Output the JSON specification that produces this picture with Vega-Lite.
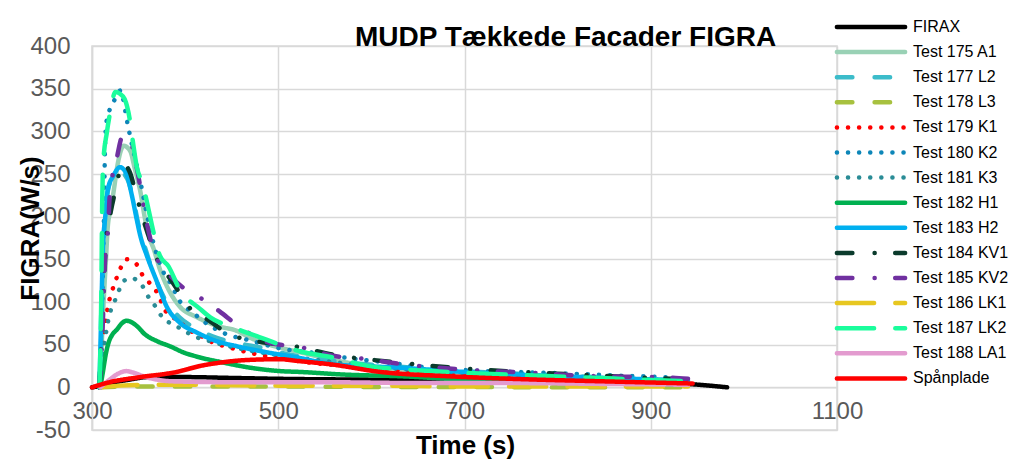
{
"$schema": "https://vega.github.io/schema/vega-lite/v6.json",
"width": 745, "height": 384,
"autosize": {"type": "none"},
"padding": {"left": 92, "top": 46, "right": 181, "bottom": 30},
"background": "#ffffff",
"config": {"view": {"stroke": "#d9d9d9", "strokeWidth": 1.5}},
"title": {"text": "MUDP Tækkede Facader FIGRA", "font": "Liberation Sans", "fontSize": 28, "fontWeight": "bold", "color": "#000000", "anchor": "start", "frame": "group", "dx": 263, "offset": -33},
"datasets": {"d": [
{"s":"FIRAX","t":300,"v":0},{"s":"FIRAX","t":310,"v":2},{"s":"FIRAX","t":320,"v":5},{"s":"FIRAX","t":340,"v":9},{"s":"FIRAX","t":360,"v":12},{"s":"FIRAX","t":400,"v":12},{"s":"FIRAX","t":450,"v":11},{"s":"FIRAX","t":500,"v":10},{"s":"FIRAX","t":600,"v":9},{"s":"FIRAX","t":700,"v":8},{"s":"FIRAX","t":800,"v":7},{"s":"FIRAX","t":900,"v":5},{"s":"FIRAX","t":945,"v":3.5},{"s":"FIRAX","t":982,"v":0},
{"s":"Test 175 A1","t":308,"v":0},{"s":"Test 175 A1","t":310,"v":40},{"s":"Test 175 A1","t":312,"v":90},{"s":"Test 175 A1","t":315,"v":150},{"s":"Test 175 A1","t":317,"v":189},{"s":"Test 175 A1","t":320,"v":208},{"s":"Test 175 A1","t":323,"v":228},{"s":"Test 175 A1","t":328,"v":264},{"s":"Test 175 A1","t":334,"v":283},{"s":"Test 175 A1","t":341,"v":277},{"s":"Test 175 A1","t":346,"v":256},{"s":"Test 175 A1","t":352,"v":229},{"s":"Test 175 A1","t":357,"v":197},{"s":"Test 175 A1","t":362,"v":174},{"s":"Test 175 A1","t":366,"v":163},{"s":"Test 175 A1","t":373,"v":138},{"s":"Test 175 A1","t":382,"v":115},{"s":"Test 175 A1","t":394,"v":95},{"s":"Test 175 A1","t":413,"v":82},{"s":"Test 175 A1","t":434,"v":72},{"s":"Test 175 A1","t":456,"v":66},{"s":"Test 175 A1","t":470,"v":58},{"s":"Test 175 A1","t":500,"v":47},{"s":"Test 175 A1","t":524,"v":41},{"s":"Test 175 A1","t":555,"v":33},{"s":"Test 175 A1","t":585,"v":27},{"s":"Test 175 A1","t":631,"v":21},{"s":"Test 175 A1","t":700,"v":16},{"s":"Test 175 A1","t":800,"v":12},{"s":"Test 175 A1","t":880,"v":9},{"s":"Test 175 A1","t":940,"v":7},
{"s":"Test 177 L2","t":308,"v":0},{"s":"Test 177 L2","t":310,"v":60},{"s":"Test 177 L2","t":312,"v":150},{"s":"Test 177 L2","t":314,"v":200},{"s":"Test 177 L2","t":318,"v":235},{"s":"Test 177 L2","t":324,"v":248},{"s":"Test 177 L2","t":331,"v":252},{"s":"Test 177 L2","t":338,"v":244},{"s":"Test 177 L2","t":344,"v":222},{"s":"Test 177 L2","t":350,"v":190},{"s":"Test 177 L2","t":358,"v":160},{"s":"Test 177 L2","t":368,"v":128},{"s":"Test 177 L2","t":380,"v":100},{"s":"Test 177 L2","t":394,"v":82},{"s":"Test 177 L2","t":413,"v":68},{"s":"Test 177 L2","t":434,"v":58},{"s":"Test 177 L2","t":456,"v":52},{"s":"Test 177 L2","t":488,"v":45},{"s":"Test 177 L2","t":505,"v":40},{"s":"Test 177 L2","t":559,"v":31},{"s":"Test 177 L2","t":631,"v":24},{"s":"Test 177 L2","t":700,"v":19},{"s":"Test 177 L2","t":800,"v":14},{"s":"Test 177 L2","t":880,"v":10},{"s":"Test 177 L2","t":940,"v":8},
{"s":"Test 178 L3","t":308,"v":0},{"s":"Test 178 L3","t":340,"v":1},{"s":"Test 178 L3","t":400,"v":1},{"s":"Test 178 L3","t":500,"v":1},{"s":"Test 178 L3","t":600,"v":0.5},{"s":"Test 178 L3","t":700,"v":0.5},{"s":"Test 178 L3","t":800,"v":0},{"s":"Test 178 L3","t":940,"v":0},
{"s":"Test 179 K1","t":308,"v":0},{"s":"Test 179 K1","t":312,"v":50},{"s":"Test 179 K1","t":315,"v":80},{"s":"Test 179 K1","t":317.5,"v":97},{"s":"Test 179 K1","t":321,"v":111},{"s":"Test 179 K1","t":325,"v":124},{"s":"Test 179 K1","t":330,"v":138},{"s":"Test 179 K1","t":337,"v":150},{"s":"Test 179 K1","t":343,"v":148},{"s":"Test 179 K1","t":348,"v":144},{"s":"Test 179 K1","t":354,"v":132},{"s":"Test 179 K1","t":362,"v":122},{"s":"Test 179 K1","t":371,"v":109},{"s":"Test 179 K1","t":378,"v":91},{"s":"Test 179 K1","t":394,"v":77},{"s":"Test 179 K1","t":403,"v":68},{"s":"Test 179 K1","t":414,"v":62},{"s":"Test 179 K1","t":427,"v":54},{"s":"Test 179 K1","t":450,"v":46},{"s":"Test 179 K1","t":480,"v":38},{"s":"Test 179 K1","t":520,"v":31},{"s":"Test 179 K1","t":580,"v":24},{"s":"Test 179 K1","t":650,"v":18},{"s":"Test 179 K1","t":750,"v":13},{"s":"Test 179 K1","t":850,"v":9},{"s":"Test 179 K1","t":940,"v":6},
{"s":"Test 180 K2","t":308,"v":0},{"s":"Test 180 K2","t":311,"v":100},{"s":"Test 180 K2","t":313,"v":212},{"s":"Test 180 K2","t":314,"v":283},{"s":"Test 180 K2","t":315.5,"v":311},{"s":"Test 180 K2","t":323,"v":334},{"s":"Test 180 K2","t":331,"v":348},{"s":"Test 180 K2","t":333,"v":340},{"s":"Test 180 K2","t":338,"v":310},{"s":"Test 180 K2","t":344,"v":279},{"s":"Test 180 K2","t":347,"v":265},{"s":"Test 180 K2","t":354,"v":230},{"s":"Test 180 K2","t":360,"v":197},{"s":"Test 180 K2","t":370,"v":154},{"s":"Test 180 K2","t":378,"v":132},{"s":"Test 180 K2","t":386,"v":119},{"s":"Test 180 K2","t":391,"v":107},{"s":"Test 180 K2","t":410,"v":86},{"s":"Test 180 K2","t":445,"v":62},{"s":"Test 180 K2","t":466,"v":56},{"s":"Test 180 K2","t":505,"v":45},{"s":"Test 180 K2","t":534,"v":41},{"s":"Test 180 K2","t":584,"v":33},{"s":"Test 180 K2","t":610,"v":30},{"s":"Test 180 K2","t":663,"v":23},{"s":"Test 180 K2","t":725,"v":19},{"s":"Test 180 K2","t":790,"v":17},{"s":"Test 180 K2","t":860,"v":14},{"s":"Test 180 K2","t":925,"v":11},{"s":"Test 180 K2","t":942,"v":8},
{"s":"Test 181 K3","t":308,"v":0},{"s":"Test 181 K3","t":312,"v":40},{"s":"Test 181 K3","t":316,"v":70},{"s":"Test 181 K3","t":319,"v":86},{"s":"Test 181 K3","t":324,"v":100},{"s":"Test 181 K3","t":328,"v":111},{"s":"Test 181 K3","t":333,"v":123},{"s":"Test 181 K3","t":338,"v":127},{"s":"Test 181 K3","t":344,"v":128},{"s":"Test 181 K3","t":349,"v":124},{"s":"Test 181 K3","t":354,"v":119},{"s":"Test 181 K3","t":360,"v":107},{"s":"Test 181 K3","t":368,"v":95},{"s":"Test 181 K3","t":375,"v":83},{"s":"Test 181 K3","t":386,"v":74},{"s":"Test 181 K3","t":397,"v":68},{"s":"Test 181 K3","t":409,"v":60},{"s":"Test 181 K3","t":421,"v":56},{"s":"Test 181 K3","t":440,"v":50},{"s":"Test 181 K3","t":470,"v":43},{"s":"Test 181 K3","t":520,"v":35},{"s":"Test 181 K3","t":580,"v":27},{"s":"Test 181 K3","t":650,"v":20},{"s":"Test 181 K3","t":750,"v":15},{"s":"Test 181 K3","t":850,"v":11},{"s":"Test 181 K3","t":940,"v":7},
{"s":"Test 182 H1","t":309,"v":0},{"s":"Test 182 H1","t":312,"v":20},{"s":"Test 182 H1","t":315,"v":40},{"s":"Test 182 H1","t":318,"v":53},{"s":"Test 182 H1","t":322,"v":62},{"s":"Test 182 H1","t":327,"v":68},{"s":"Test 182 H1","t":332,"v":75},{"s":"Test 182 H1","t":337,"v":78},{"s":"Test 182 H1","t":343,"v":76},{"s":"Test 182 H1","t":348,"v":72},{"s":"Test 182 H1","t":357,"v":62},{"s":"Test 182 H1","t":370,"v":54},{"s":"Test 182 H1","t":384,"v":48},{"s":"Test 182 H1","t":398,"v":41},{"s":"Test 182 H1","t":416,"v":35},{"s":"Test 182 H1","t":441,"v":29},{"s":"Test 182 H1","t":470,"v":23},{"s":"Test 182 H1","t":502,"v":19},{"s":"Test 182 H1","t":524,"v":18},{"s":"Test 182 H1","t":570,"v":15},{"s":"Test 182 H1","t":631,"v":13},{"s":"Test 182 H1","t":717,"v":8},{"s":"Test 182 H1","t":800,"v":6},{"s":"Test 182 H1","t":880,"v":4},{"s":"Test 182 H1","t":940,"v":3},
{"s":"Test 183 H2","t":308,"v":0},{"s":"Test 183 H2","t":310,"v":90},{"s":"Test 183 H2","t":312,"v":170},{"s":"Test 183 H2","t":314,"v":197},{"s":"Test 183 H2","t":317,"v":232},{"s":"Test 183 H2","t":323,"v":248},{"s":"Test 183 H2","t":330,"v":258},{"s":"Test 183 H2","t":337,"v":250},{"s":"Test 183 H2","t":343,"v":224},{"s":"Test 183 H2","t":348,"v":197},{"s":"Test 183 H2","t":352,"v":177},{"s":"Test 183 H2","t":359,"v":154},{"s":"Test 183 H2","t":370,"v":123},{"s":"Test 183 H2","t":380,"v":95},{"s":"Test 183 H2","t":394,"v":76},{"s":"Test 183 H2","t":413,"v":64},{"s":"Test 183 H2","t":434,"v":54},{"s":"Test 183 H2","t":456,"v":48},{"s":"Test 183 H2","t":488,"v":41},{"s":"Test 183 H2","t":520,"v":35},{"s":"Test 183 H2","t":559,"v":27},{"s":"Test 183 H2","t":631,"v":23},{"s":"Test 183 H2","t":700,"v":18},{"s":"Test 183 H2","t":800,"v":13},{"s":"Test 183 H2","t":880,"v":10},{"s":"Test 183 H2","t":940,"v":8},
{"s":"Test 184 KV1","t":308,"v":0},{"s":"Test 184 KV1","t":311,"v":80},{"s":"Test 184 KV1","t":315,"v":170},{"s":"Test 184 KV1","t":320,"v":205},{"s":"Test 184 KV1","t":325,"v":230},{"s":"Test 184 KV1","t":333,"v":262},{"s":"Test 184 KV1","t":341,"v":251},{"s":"Test 184 KV1","t":346,"v":232},{"s":"Test 184 KV1","t":352,"v":208},{"s":"Test 184 KV1","t":360,"v":180},{"s":"Test 184 KV1","t":370,"v":150},{"s":"Test 184 KV1","t":382,"v":130},{"s":"Test 184 KV1","t":394,"v":111},{"s":"Test 184 KV1","t":409,"v":88},{"s":"Test 184 KV1","t":420,"v":82},{"s":"Test 184 KV1","t":448,"v":62},{"s":"Test 184 KV1","t":477,"v":54},{"s":"Test 184 KV1","t":518,"v":48},{"s":"Test 184 KV1","t":560,"v":38},{"s":"Test 184 KV1","t":620,"v":30},{"s":"Test 184 KV1","t":700,"v":22},{"s":"Test 184 KV1","t":800,"v":16},{"s":"Test 184 KV1","t":880,"v":12},{"s":"Test 184 KV1","t":940,"v":9},
{"s":"Test 185 KV2","t":308,"v":0},{"s":"Test 185 KV2","t":311,"v":60},{"s":"Test 185 KV2","t":314,"v":150},{"s":"Test 185 KV2","t":317.5,"v":189},{"s":"Test 185 KV2","t":319,"v":224},{"s":"Test 185 KV2","t":326.5,"v":268},{"s":"Test 185 KV2","t":333.5,"v":296},{"s":"Test 185 KV2","t":338,"v":292},{"s":"Test 185 KV2","t":343,"v":283},{"s":"Test 185 KV2","t":348,"v":258},{"s":"Test 185 KV2","t":355,"v":215},{"s":"Test 185 KV2","t":362,"v":177},{"s":"Test 185 KV2","t":366,"v":160},{"s":"Test 185 KV2","t":375,"v":142},{"s":"Test 185 KV2","t":382,"v":133},{"s":"Test 185 KV2","t":400,"v":115},{"s":"Test 185 KV2","t":419,"v":103},{"s":"Test 185 KV2","t":437,"v":89},{"s":"Test 185 KV2","t":457,"v":72},{"s":"Test 185 KV2","t":488,"v":53},{"s":"Test 185 KV2","t":524,"v":47},{"s":"Test 185 KV2","t":559,"v":37},{"s":"Test 185 KV2","t":596,"v":33},{"s":"Test 185 KV2","t":620,"v":29},{"s":"Test 185 KV2","t":695,"v":21},{"s":"Test 185 KV2","t":771,"v":17},{"s":"Test 185 KV2","t":843,"v":13},{"s":"Test 185 KV2","t":911,"v":12},{"s":"Test 185 KV2","t":940,"v":10},
{"s":"Test 186 LK1","t":309,"v":0},{"s":"Test 186 LK1","t":330,"v":2},{"s":"Test 186 LK1","t":360,"v":3},{"s":"Test 186 LK1","t":400,"v":3},{"s":"Test 186 LK1","t":500,"v":2},{"s":"Test 186 LK1","t":600,"v":2},{"s":"Test 186 LK1","t":700,"v":1},{"s":"Test 186 LK1","t":800,"v":1},{"s":"Test 186 LK1","t":940,"v":1},
{"s":"Test 187 LK2","t":308,"v":0},{"s":"Test 187 LK2","t":310,"v":110},{"s":"Test 187 LK2","t":311,"v":220},{"s":"Test 187 LK2","t":312,"v":262},{"s":"Test 187 LK2","t":316,"v":299},{"s":"Test 187 LK2","t":320,"v":325},{"s":"Test 187 LK2","t":325,"v":346},{"s":"Test 187 LK2","t":330,"v":344},{"s":"Test 187 LK2","t":335,"v":338},{"s":"Test 187 LK2","t":341,"v":311},{"s":"Test 187 LK2","t":344,"v":287},{"s":"Test 187 LK2","t":348,"v":259},{"s":"Test 187 LK2","t":355,"v":236},{"s":"Test 187 LK2","t":360,"v":212},{"s":"Test 187 LK2","t":366,"v":182},{"s":"Test 187 LK2","t":373,"v":154},{"s":"Test 187 LK2","t":382,"v":142},{"s":"Test 187 LK2","t":394,"v":115},{"s":"Test 187 LK2","t":416,"v":92},{"s":"Test 187 LK2","t":427,"v":82},{"s":"Test 187 LK2","t":452,"v":70},{"s":"Test 187 LK2","t":477,"v":60},{"s":"Test 187 LK2","t":524,"v":42},{"s":"Test 187 LK2","t":559,"v":35},{"s":"Test 187 LK2","t":596,"v":25},{"s":"Test 187 LK2","t":663,"v":19},{"s":"Test 187 LK2","t":746,"v":15},{"s":"Test 187 LK2","t":817,"v":12},{"s":"Test 187 LK2","t":892,"v":9},{"s":"Test 187 LK2","t":940,"v":7},
{"s":"Test 188 LA1","t":309,"v":0},{"s":"Test 188 LA1","t":312,"v":3},{"s":"Test 188 LA1","t":319,"v":9},{"s":"Test 188 LA1","t":328,"v":16},{"s":"Test 188 LA1","t":337,"v":19},{"s":"Test 188 LA1","t":345,"v":17},{"s":"Test 188 LA1","t":355,"v":13},{"s":"Test 188 LA1","t":370,"v":9},{"s":"Test 188 LA1","t":387,"v":7},{"s":"Test 188 LA1","t":450,"v":6},{"s":"Test 188 LA1","t":550,"v":6},{"s":"Test 188 LA1","t":650,"v":5},{"s":"Test 188 LA1","t":750,"v":5},{"s":"Test 188 LA1","t":850,"v":4},{"s":"Test 188 LA1","t":940,"v":3},
{"s":"Spånplade","t":300,"v":0},{"s":"Spånplade","t":319,"v":6},{"s":"Spånplade","t":352,"v":12},{"s":"Spånplade","t":391,"v":18},{"s":"Spånplade","t":416,"v":25},{"s":"Spånplade","t":438,"v":29},{"s":"Spånplade","t":466,"v":32},{"s":"Spånplade","t":502,"v":33},{"s":"Spånplade","t":520,"v":31},{"s":"Spånplade","t":556,"v":27},{"s":"Spånplade","t":610,"v":18},{"s":"Spånplade","t":682,"v":13},{"s":"Spånplade","t":750,"v":10},{"s":"Spånplade","t":850,"v":7},{"s":"Spånplade","t":945,"v":4.5}
]},
"data": {"name": "d"},
"mark": {"type": "line", "strokeWidth": 4.5, "strokeCap": "round", "strokeJoin": "round", "interpolate": "monotone"},
"encoding": {
"x": {"field": "t", "type": "quantitative", "scale": {"domain": [300, 1100], "nice": false, "zero": false},
 "axis": {"orient": "bottom", "offset": -42.67, "values": [300, 500, 700, 900, 1100], "labelExpr": "'' + datum.value", "title": "Time (s)", "titleFont": "Liberation Sans", "titleFontSize": 26, "titleFontWeight": "bold", "titleColor": "#000000", "titleX": 373, "titleY": 58, "titleBaseline": "middle", "labelFont": "Liberation Sans", "labelFontSize": 24, "labelColor": "#595959", "labelPadding": 12, "labelFlush": false, "labelOverlap": false, "labelBound": false, "ticks": false, "domainColor": "#d9d9d9", "domainWidth": 1.5, "gridColor": "#d9d9d9", "gridWidth": 1.5}},
"y": {"field": "v", "type": "quantitative", "scale": {"domain": [-50, 400], "nice": false, "zero": false},
 "axis": {"values": [-50, 0, 50, 100, 150, 200, 250, 300, 350, 400], "labelExpr": "'' + datum.value", "title": "FIGRA(W/s)", "titleFont": "Liberation Sans", "titleFontSize": 26, "titleFontWeight": "bold", "titleColor": "#000000", "titleX": -62, "titleY": 182, "titleAngle": 270, "titleAlign": "center", "titleBaseline": "middle", "labelFont": "Liberation Sans", "labelFontSize": 24, "labelColor": "#595959", "labelPadding": 22, "labelOverlap": false, "labelBound": false, "labelFlush": false, "ticks": false, "domainColor": "#d9d9d9", "domainWidth": 1.5, "gridColor": "#d9d9d9", "gridWidth": 1.5}},
"color": {"field": "s", "type": "nominal", "title": null,
 "scale": {"domain": ["FIRAX","Test 175 A1","Test 177 L2","Test 178 L3","Test 179 K1","Test 180 K2","Test 181 K3","Test 182 H1","Test 183 H2","Test 184 KV1","Test 185 KV2","Test 186 LK1","Test 187 LK2","Test 188 LA1","Spånplade"],
  "range": ["#000000","#99d1b5","#3cbcca","#a7c13f","#ff0000","#0d86b8","#2a8c96","#00b050","#00b0f0","#0b3b2c","#7030a0","#e7c720","#1afd9c","#e39bcf","#ff0000"]},
 "legend": {"orient": "none", "legendX": 771, "legendY": -27, "padding": 0, "rowPadding": 7.1, "symbolType": "M-7,0H7", "symbolSize": 95, "symbolStrokeWidth": 4.5, "labelFont": "Liberation Sans", "labelFontSize": 16, "labelColor": "#000000", "labelOffset": 34, "labelLimit": 200, "encode": {"symbols": {"update": {"strokeCap": {"value": "round"}}}}}},
"strokeDash": {"field": "s", "type": "nominal", "title": null,
 "scale": {"domain": ["FIRAX","Test 175 A1","Test 177 L2","Test 178 L3","Test 179 K1","Test 180 K2","Test 181 K3","Test 182 H1","Test 183 H2","Test 184 KV1","Test 185 KV2","Test 186 LK1","Test 187 LK2","Test 188 LA1","Spånplade"],
  "range": [[1,0],[1,0],[15.5,22.2],[15.5,22.2],[0.1,11],[0.1,11],[0.1,11],[1,0],[1,0],[15.5,22.2,0.1,20.5],[15.5,22.2,0.1,20.5],[37.2,21.2],[37.2,21.2],[1,0],[1,0]]}}
}
}
